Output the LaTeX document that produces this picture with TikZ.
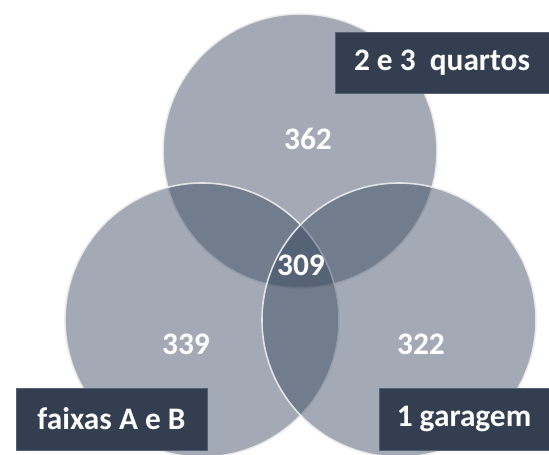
\documentclass[tikz,border=0pt]{standalone}
\usepackage{fontspec}
\setmainfont{Carlito}
\usepackage{tikz}
\usetikzlibrary{positioning}
\definecolor{setfill}{HTML}{36455D}
\definecolor{setline}{HTML}{EDEDED}
\definecolor{tagfill}{HTML}{333F50}
\definecolor{tagline}{HTML}{556175}
\tikzset{
  vennset/.style={
    circle, fill=setfill, fill opacity=0.46, draw=setline, draw opacity=0.9,
    line width=1.2pt, minimum size=205.5pt, inner sep=0pt
  },
  countlabel/.style={
    font=\fontsize{23.5}{26}\selectfont\bfseries, text=white, inner sep=0pt
  },
  tagbox/.style={
    rectangle, fill=tagfill, draw=tagline, line width=0.6pt,
    minimum height=46.5pt, minimum width=#1, inner sep=0pt,
    font=\fontsize{23.5}{26}\selectfont\bfseries, text=white
  },
  tagbox/.default=140pt,
}

\begin{document}
\begin{tikzpicture}[x=0.75pt, y=-0.75pt]
    \useasboundingbox (0,0) rectangle (549,454);
    \clip (0,0) rectangle (549,454);
    % the three sets
    \node[vennset] (quartos) at (300,151) {};
    \node[vennset] (faixas) at (202,320) {};
    \node[vennset] (garagem) at (399,320) {};
    % counts
    \node[countlabel] (nq) at (308,139) {362};
    \node[countlabel] (nall) at (301,265) {309};
    \node[countlabel] (nf) at (186,344) {339};
    \node[countlabel] (ng) at (421,344) {322};
    % tags
    \node[tagbox=160.5pt, minimum height=45.75pt] (tquartos) at (442,62.5) {2 e 3\ \ quartos};
    \node[tagbox=143.25pt] (tfaixas) at (111.5,419) {faixas A e B};
    \node[tagbox=127.5pt] (tgaragem) at (464,419) {1 garagem};
\end{tikzpicture}
\end{document}
